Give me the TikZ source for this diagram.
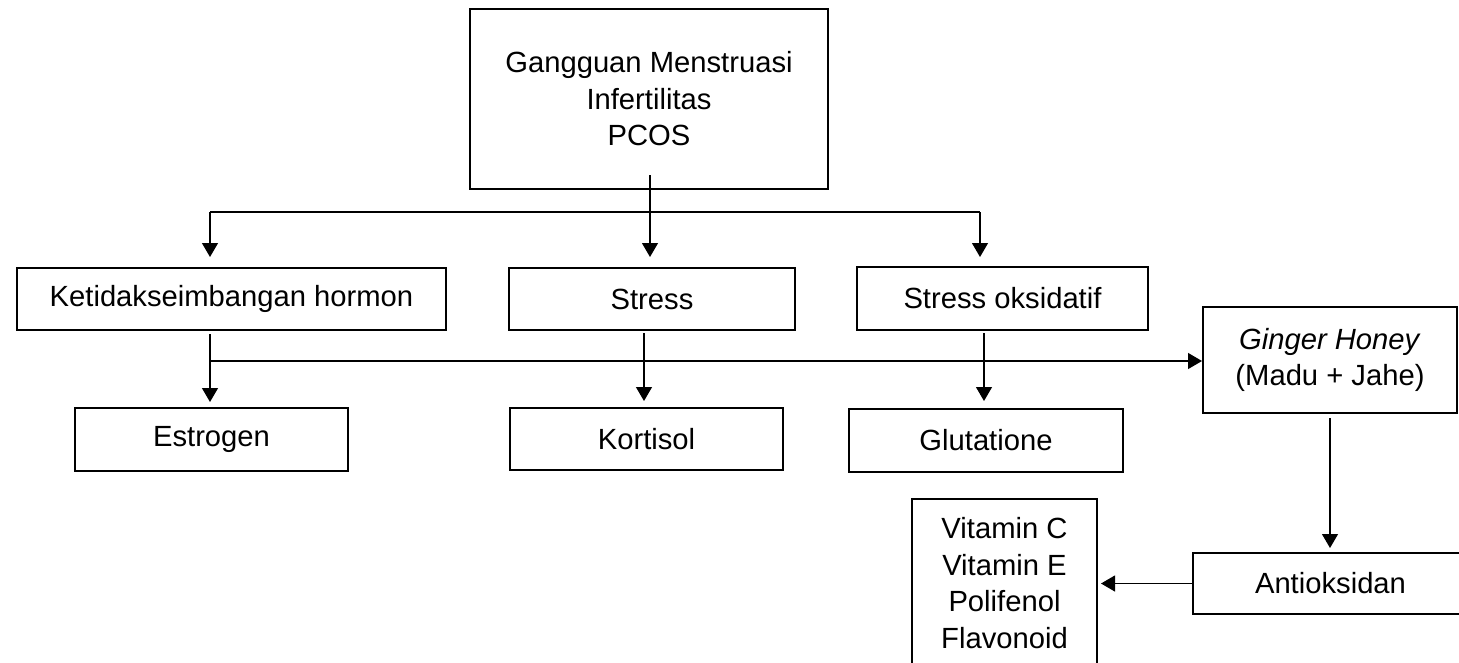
\documentclass[tikz,border=0pt]{standalone}
\usepackage{fontspec}
\setmainfont{Liberation Sans}
\usetikzlibrary{arrows.meta,calc}
\begin{document}
\begin{tikzpicture}[x=1pt,y=-1pt,
  box/.style={draw,line width=2pt,inner sep=0pt,align=center,font=\fontsize{29.2}{36.5}\selectfont},
  conn/.style={line width=1.2pt},
  arr/.style={conn,-{Triangle[width=16pt,length=14pt]}}]
\useasboundingbox (0,0) rectangle (1459,662);
\clip (0,0) rectangle (1459,662);
% boxes
\node[box,minimum width=358pt,minimum height=180pt] (top) at (649,99) {Gangguan Menstruasi\\Infertilitas\\PCOS};
\node[box,minimum width=429pt,minimum height=62pt] (keti) at (231.5,299) {Ketidakseimbangan hormon};
\node[box,minimum width=286pt,minimum height=62pt] (stress) at (652,299) {Stress};
\node[box,minimum width=291pt,minimum height=63pt] (oks) at (1002.5,298.5) {Stress oksidatif};
\node[box,minimum width=254pt,minimum height=106pt] (ginger) at (1330,360) {\textit{Ginger Honey}\\(Madu + Jahe)};
\node[box,minimum width=273pt,minimum height=63pt] (estrogen) at (211.5,439.5) {Estrogen};
\node[box,minimum width=273pt,minimum height=62pt] (kortisol) at (646.5,439) {Kortisol};
\node[box,minimum width=274pt,minimum height=63pt] (gluta) at (986,440.5) {Glutatione};
\node[box,minimum width=275pt,minimum height=61pt] (antiok) at (1330.5,583.5) {Antioksidan};
\node[box,minimum width=185pt,minimum height=168pt] (vit) at (1004.5,583) {Vitamin C\\Vitamin E\\Polifenol\\Flavonoid};
% connector points
\coordinate (t0) at (650,175);
\coordinate (tL) at (210,212);
\coordinate (tR) at (980,212);
\coordinate (kD) at (210,334);
\coordinate (hL) at (210,361);
\coordinate (sD) at (644,333);
\coordinate (oD) at (984,333);
% connectors
\draw[conn] (tL) -- (tR);
\draw[arr,shorten >=10pt] (tL) -- (tL |- keti.north);
\draw[arr,shorten >=10pt] (t0) -- (t0 |- stress.north);
\draw[arr,shorten >=9pt] (tR) -- (tR |- oks.north);
\draw[arr,shorten >=5pt] (kD) -- (kD |- estrogen.north);
\draw[arr] (hL) -- (hL -| ginger.west);
\draw[arr,shorten >=6pt] (sD) -- (sD |- kortisol.north);
\draw[arr,shorten >=7pt] (oD) -- (oD |- gluta.north);
\draw[arr,shorten <=4pt,shorten >=4pt] (ginger.south) -- (ginger.south |- antiok.north);
\draw[arr,shorten >=3pt] (antiok.west) -- (antiok.west -| vit.east);
\end{tikzpicture}
\end{document}
